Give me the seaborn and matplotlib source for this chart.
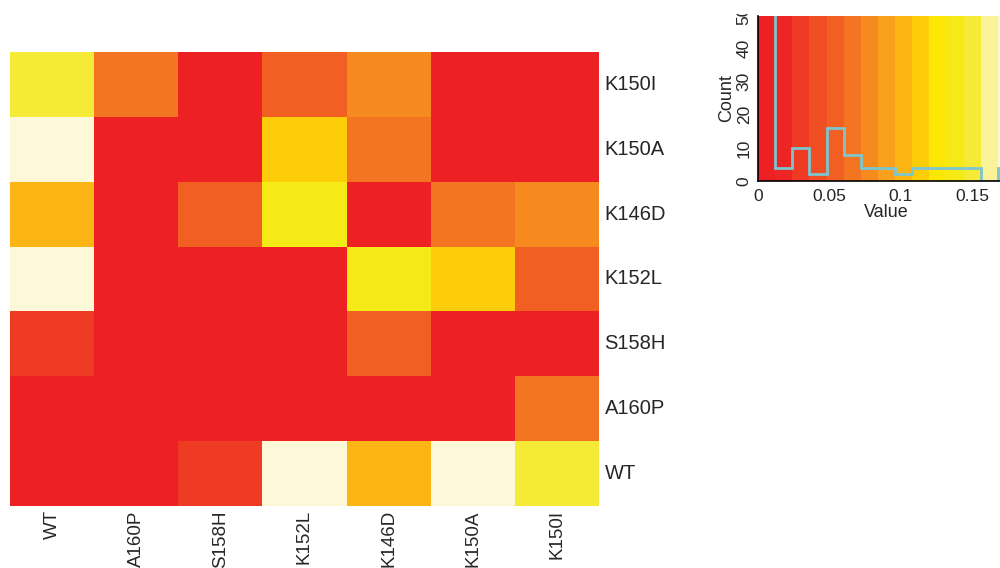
import numpy as np
import pandas as pd
import seaborn as sns
import matplotlib
matplotlib.use("Agg")
import matplotlib.pyplot as plt
from matplotlib.colors import ListedColormap
from matplotlib.transforms import Bbox, TransformedBbox

sns.set_style("white")
plt.rcParams["font.family"] = ["Liberation Sans", "DejaVu Sans"]

# Variants, in column order (rows are shown in reverse order)
variants = ["WT", "A160P", "S158H", "K152L", "K146D", "K150A", "K150I"]

# Pairwise distance values (symmetric)
dist_WT    = [0.000, 0.004, 0.030, 0.174, 0.102, 0.174, 0.150]
dist_A160P = [0.004, 0.000, 0.005, 0.006, 0.003, 0.004, 0.066]
dist_S158H = [0.030, 0.005, 0.000, 0.008, 0.054, 0.007, 0.009]
dist_K152L = [0.174, 0.006, 0.008, 0.000, 0.138, 0.114, 0.054]
dist_K146D = [0.102, 0.003, 0.054, 0.138, 0.000, 0.066, 0.078]
dist_K150A = [0.174, 0.004, 0.007, 0.114, 0.066, 0.000, 0.005]
dist_K150I = [0.150, 0.066, 0.009, 0.054, 0.078, 0.005, 0.000]

# Colour key: break points and the palette used for each interval
key_breaks = [0.000, 0.012, 0.024, 0.036, 0.048, 0.060, 0.072, 0.084,
              0.096, 0.108, 0.120, 0.132, 0.144, 0.156, 0.168, 0.180]
key_colors = ["#ED2024", "#ED2524", "#EF3B23", "#F04E23", "#F16022",
              "#F37421", "#F68A1F", "#FAA01C", "#FDB415", "#FECD0A",
              "#FEE605", "#F6EA16", "#F5EB37", "#F9F296", "#FDF8D8"]
# Histogram counts per key interval
key_counts = [51, 4, 10, 2, 16, 8, 4, 4, 2, 4, 4, 4, 4, 0, 4]
key_xticks = [0, 0.05, 0.1, 0.15]
key_yticks = [0, 10, 20, 30, 40, 50]

mat = pd.DataFrame(
    [dist_WT, dist_A160P, dist_S158H, dist_K152L, dist_K146D, dist_K150A, dist_K150I],
    index=variants, columns=variants,
)
mat = mat.iloc[::-1]  # bottom row is WT

cmap = ListedColormap(key_colors)
vmin, vmax = key_breaks[0], key_breaks[-1]

fig = plt.figure(figsize=(10, 5.68), dpi=100)

# Main heatmap
ax = fig.add_axes([0.010, 0.1092, 0.589, 0.7993])
sns.heatmap(mat, ax=ax, cmap=cmap, vmin=vmin, vmax=vmax, cbar=False,
            linewidths=0, square=False)
ax.yaxis.tick_right()
ax.set_yticklabels(mat.index, rotation=0, fontsize=14.5, va="center")
ax.set_xticklabels(mat.columns, rotation=90, fontsize=13.5)
ax.tick_params(axis="both", length=0)
ax.tick_params(axis="y", pad=4)
ax.tick_params(axis="x", pad=3)
ax.set_xlabel("")
ax.set_ylabel("")

# Colour key with histogram
kax = fig.add_axes([0.758, 0.6813, 0.257, 0.2914])
edges = np.array(key_breaks)
centers = (edges[:-1] + edges[1:]) / 2
kax.pcolormesh(edges, [0, key_yticks[-1]], centers[np.newaxis, :],
               cmap=cmap, vmin=vmin, vmax=vmax, shading="flat")
kax.stairs(key_counts, edges, color="#7DC5CF", linewidth=2, baseline=None)
kax.set_xlim(vmin, vmax)
kax.set_ylim(0, key_yticks[-1])
kax.set_xticks(key_xticks)
kax.set_xticklabels(["0", "0.05", "0.1", "0.15"])
kax.set_yticks(key_yticks)
kax.set_yticklabels([str(v) for v in key_yticks], rotation=90, va="center")
kax.tick_params(axis="both", direction="out", length=4, width=1,
                labelsize=12.5, color="black", pad=2)
kax.tick_params(axis="y", pad=0.5)
kax.set_xlabel("Value", fontsize=13, labelpad=0)
kax.set_ylabel("Count", fontsize=13, labelpad=1)
for side in ("top", "right"):
    kax.spines[side].set_visible(False)
for side in ("left", "bottom"):
    kax.spines[side].set_color("black")
    kax.spines[side].set_linewidth(1.2)

# Key panel region: nothing is drawn above the top of the key panel
clip = TransformedBbox(Bbox([[0.6, 0.0], [1.0, 0.9754]]), fig.transFigure)
fig.canvas.draw()
for lbl in kax.get_yticklabels():
    lbl.set_clip_on(True)
    lbl.set_clip_box(clip)

fig.savefig("out.png", dpi=100, facecolor="white")
